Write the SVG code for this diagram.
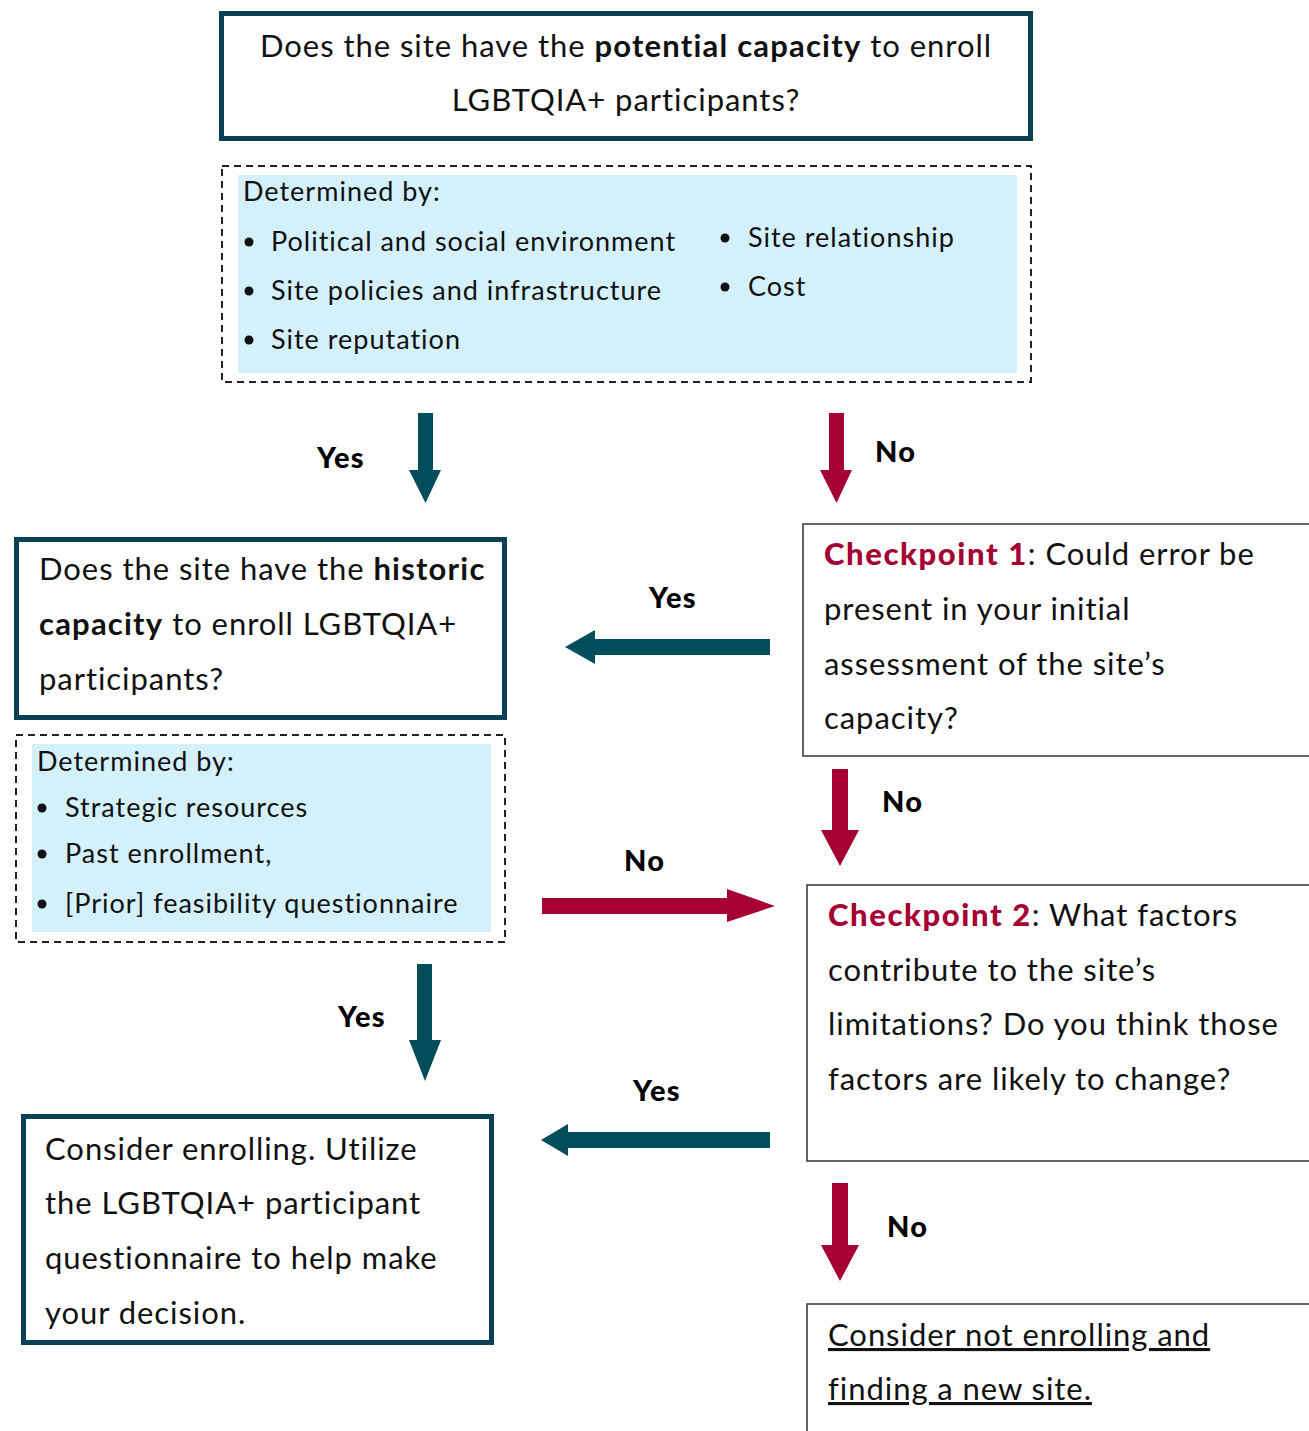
<svg xmlns="http://www.w3.org/2000/svg" width="1309" height="1431" viewBox="0 0 1309 1431">
<style>
.t{font-family:Lato,"Liberation Sans",sans-serif;fill:#111;}
.q{font-size:31px;letter-spacing:0.95px;}
.d{font-size:27px;letter-spacing:1px;}
.b{font-weight:bold;letter-spacing:1.2px;}
.lab{font-family:Lato,"Liberation Sans",sans-serif;font-weight:900;font-size:29px;letter-spacing:1.2px;fill:#000;}
.thick{fill:#fff;stroke:#0B4055;stroke-width:5;}
.thin{fill:#fff;stroke:#333;stroke-width:1.5;}
.dash{fill:none;stroke:#222;stroke-width:2;stroke-dasharray:7 5;}
.blue{fill:#D3F0FB;}
.cp{fill:#A50034;font-weight:900;letter-spacing:1.6px;}
.teal{fill:#004D5B;}
.red{fill:#A50034;}
</style>
<rect width="1309" height="1431" fill="#fff"/>
<g id="connectors">
  <polygon class="teal" points="418,413 433,413 433,470 441,470 425.5,503 409,470 418,470"/>
  <text class="lab" x="317" y="468">Yes</text>
  <polygon class="red" points="829,413 844,413 844,470 852,470 836.5,503 820,470 829,470"/>
  <text class="lab" x="875" y="462">No</text>
  <polygon class="teal" points="770,639 770,655 595,655 595,664 565,647 595,630 595,639"/>
  <text class="lab" x="649" y="608">Yes</text>
  <polygon class="red" points="832,769 848,769 848,830 859,830 840,866 821,830 832,830"/>
  <text class="lab" x="882" y="812">No</text>
  <polygon class="red" points="542,898 727,898 727,889 775,906 727,922 727,914 542,914"/>
  <text class="lab" x="624" y="871">No</text>
  <polygon class="teal" points="417,964 432,964 432,1040 441,1040 425,1081 409,1040 417,1040"/>
  <text class="lab" x="338" y="1027">Yes</text>
  <polygon class="teal" points="770,1132 770,1148 568,1148 568,1156 541,1140 568,1124 568,1132"/>
  <text class="lab" x="633" y="1101">Yes</text>
  <polygon class="red" points="832,1183 848,1183 848,1245 859,1245 840,1281 821,1245 832,1245"/>
  <text class="lab" x="887" y="1237">No</text>
</g>
<g id="potential">
  <rect class="thick" x="221.5" y="13.5" width="809" height="125"/>
  <text class="t q" x="626" y="57" text-anchor="middle">Does the site have the <tspan class="b">potential capacity</tspan> to enroll</text>
  <text class="t q" x="626" y="111" text-anchor="middle">LGBTQIA+ participants?</text>
</g>
<g id="determined1">
  <rect class="dash" x="222" y="166" width="809" height="216"/>
  <rect class="blue" x="238" y="175" width="779" height="198"/>
  <text class="t d" x="243" y="201">Determined by:</text>
  <circle cx="249" cy="242" r="4.5" fill="#111"/>
  <text class="t d" x="271" y="251">Political and social environment</text>
  <circle cx="249" cy="291" r="4.5" fill="#111"/>
  <text class="t d" x="271" y="300">Site policies and infrastructure</text>
  <circle cx="249" cy="340" r="4.5" fill="#111"/>
  <text class="t d" x="271" y="349">Site reputation</text>
  <circle cx="725" cy="238" r="4.5" fill="#111"/>
  <text class="t d" x="748" y="247">Site relationship</text>
  <circle cx="725" cy="287" r="4.5" fill="#111"/>
  <text class="t d" x="748" y="296">Cost</text>
</g>
<g id="checkpoint1">
  <rect class="thin" x="803" y="524" width="520" height="232"/>
  <text class="t q" x="824" y="565"><tspan class="cp">Checkpoint 1</tspan>: Could error be</text>
  <text class="t q" x="824" y="620">present in your initial</text>
  <text class="t q" x="824" y="675">assessment of the site’s</text>
  <text class="t q" x="824" y="729">capacity?</text>
</g>
<g id="historic">
  <rect class="thick" x="16.5" y="539.5" width="488" height="178"/>
  <text class="t q" x="39" y="580">Does the site have the <tspan class="b">historic</tspan></text>
  <text class="t q" x="39" y="635"><tspan class="b">capacity</tspan> to enroll LGBTQIA+</text>
  <text class="t q" x="39" y="690">participants?</text>
</g>
<g id="determined2">
  <rect class="dash" x="16" y="735" width="489" height="207"/>
  <rect class="blue" x="32" y="744" width="459" height="188"/>
  <text class="t d" x="37" y="771">Determined by:</text>
  <circle cx="42" cy="808" r="4.5" fill="#111"/>
  <text class="t d" x="65" y="817">Strategic resources</text>
  <circle cx="42" cy="854" r="4.5" fill="#111"/>
  <text class="t d" x="65" y="863">Past enrollment,</text>
  <circle cx="42" cy="904" r="4.5" fill="#111"/>
  <text class="t d" x="65" y="913">[Prior] feasibility questionnaire</text>
</g>
<g id="checkpoint2">
  <rect class="thin" x="807" y="885" width="520" height="276"/>
  <text class="t q" x="828" y="926"><tspan class="cp">Checkpoint 2</tspan>: What factors</text>
  <text class="t q" x="828" y="981">contribute to the site’s</text>
  <text class="t q" x="828" y="1035">limitations? Do you think those</text>
  <text class="t q" x="828" y="1090">factors are likely to change?</text>
</g>
<g id="consider">
  <rect class="thick" x="23.5" y="1116.5" width="468" height="226"/>
  <text class="t q" x="45" y="1160">Consider enrolling. Utilize</text>
  <text class="t q" x="45" y="1214">the LGBTQIA+ participant</text>
  <text class="t q" x="45" y="1269">questionnaire to help make</text>
  <text class="t q" x="45" y="1324">your decision.</text>
</g>
<g id="notenroll">
  <rect class="thin" x="807" y="1304" width="520" height="140"/>
  <text class="t q" x="828" y="1346" text-decoration="underline">Consider not enrolling and</text>
  <text class="t q" x="828" y="1400" text-decoration="underline">finding a new site.</text>
</g>
</svg>
